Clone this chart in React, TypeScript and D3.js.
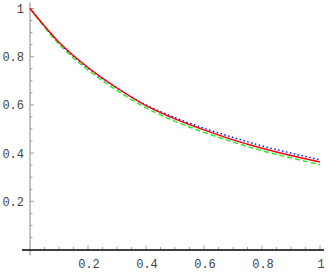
import * as React from 'react';
import * as d3 from 'd3';

const xValues = [0, 0.1, 0.2, 0.3, 0.4, 0.5, 0.6, 0.7, 0.8, 0.9, 1];
const blueValues = [1, 0.858, 0.753, 0.67, 0.6, 0.547, 0.503, 0.465, 0.43, 0.4, 0.372];
const redValues = [1, 0.86, 0.755, 0.67, 0.597, 0.542, 0.496, 0.455, 0.42, 0.39, 0.363];
const greenValues = [1, 0.852, 0.745, 0.66, 0.588, 0.532, 0.486, 0.446, 0.41, 0.38, 0.352];
const xTicks = [0.2, 0.4, 0.6, 0.8, 1];
const yTicks = [0.2, 0.4, 0.6, 0.8, 1];
const tickLabels = ['0.2', '0.4', '0.6', '0.8', '1'];

const width = 328;
const height = 273;
const plot = { left: 30, right: 320, top: 8.5, bottom: 249.5 };

class LineChart extends React.Component<object, object> {
    private svgElement: SVGSVGElement | null = null;

    render() {
        return <svg
            ref={node => { this.svgElement = node; }}
            width={width}
            height={height}
            style={{ position: 'absolute', left: 0, top: 0, background: '#fff' }}>
        </svg>
    }

    componentDidMount() {
        this.drawChart();
    }

    drawChart() {
        const svg = d3.select(this.svgElement);
        svg.selectAll('*').remove();

        const xScale = d3.scaleLinear().domain([0, 1]).range([plot.left, plot.right]);
        const yScale = d3.scaleLinear().domain([0, 1]).range([plot.bottom, plot.top]);

        // minor + major ticks, Mathematica style (inside the plot)
        const minor = d3.range(1, 21).map(i => i * 0.05);
        const tickGroup = svg.append('g').attr('stroke', '#888').attr('stroke-width', 0.8);
        minor.forEach(v => {
            const major = Math.abs(v * 5 - Math.round(v * 5)) < 1e-6;
            const len = major ? 4 : 2.5;
            tickGroup.append('line')
                .attr('x1', xScale(v)).attr('x2', xScale(v))
                .attr('y1', yScale(0)).attr('y2', yScale(0) - len);
            tickGroup.append('line')
                .attr('x1', xScale(0)).attr('x2', xScale(0) + len)
                .attr('y1', yScale(v)).attr('y2', yScale(v));
        });

        // axes
        svg.append('line')
            .attr('x1', xScale(0)).attr('x2', xScale(0))
            .attr('y1', yScale(1) - 6).attr('y2', yScale(0) + 6)
            .attr('stroke', '#888').attr('stroke-width', 1);
        svg.append('line')
            .attr('x1', xScale(0) - 8).attr('x2', xScale(1) + 4)
            .attr('y1', yScale(0) + 0.5).attr('y2', yScale(0) + 0.5)
            .attr('stroke', '#000').attr('stroke-width', 1.6);

        const font = '"Liberation Mono", "DejaVu Sans Mono", monospace';
        svg.append('g').selectAll('text')
            .data(xTicks)
            .enter()
            .append('text')
            .attr('x', d => xScale(d) + 1)
            .attr('y', 268)
            .attr('text-anchor', 'middle')
            .style('font-family', font)
            .style('font-size', '12px')
            .style('fill', '#444')
            .text((d, i) => tickLabels[i]);

        svg.append('g').selectAll('text')
            .data(yTicks)
            .enter()
            .append('text')
            .attr('x', 24)
            .attr('y', d => yScale(d) + 4.5)
            .attr('text-anchor', 'end')
            .style('font-family', font)
            .style('font-size', '12px')
            .style('fill', '#444')
            .text((d, i) => tickLabels[i]);

        const series = [
            { values: blueValues, color: '#0000ff', dash: '1.5,2.5' },
            { values: greenValues, color: '#22ee22', dash: '5,3' },
            { values: redValues, color: '#ff0000', dash: null },
        ];
        const line = d3.line<number>()
            .x((d, i) => xScale(xValues[i]))
            .y(d => yScale(d))
            .curve(d3.curveMonotoneX);

        series.forEach(s => {
            svg.append('path')
                .datum(s.values)
                .attr('d', line)
                .attr('fill', 'none')
                .attr('stroke', s.color)
                .attr('stroke-width', 1.4)
                .attr('stroke-dasharray', s.dash);
        });
    }
}

export default function App() {
    return <LineChart />;
}
